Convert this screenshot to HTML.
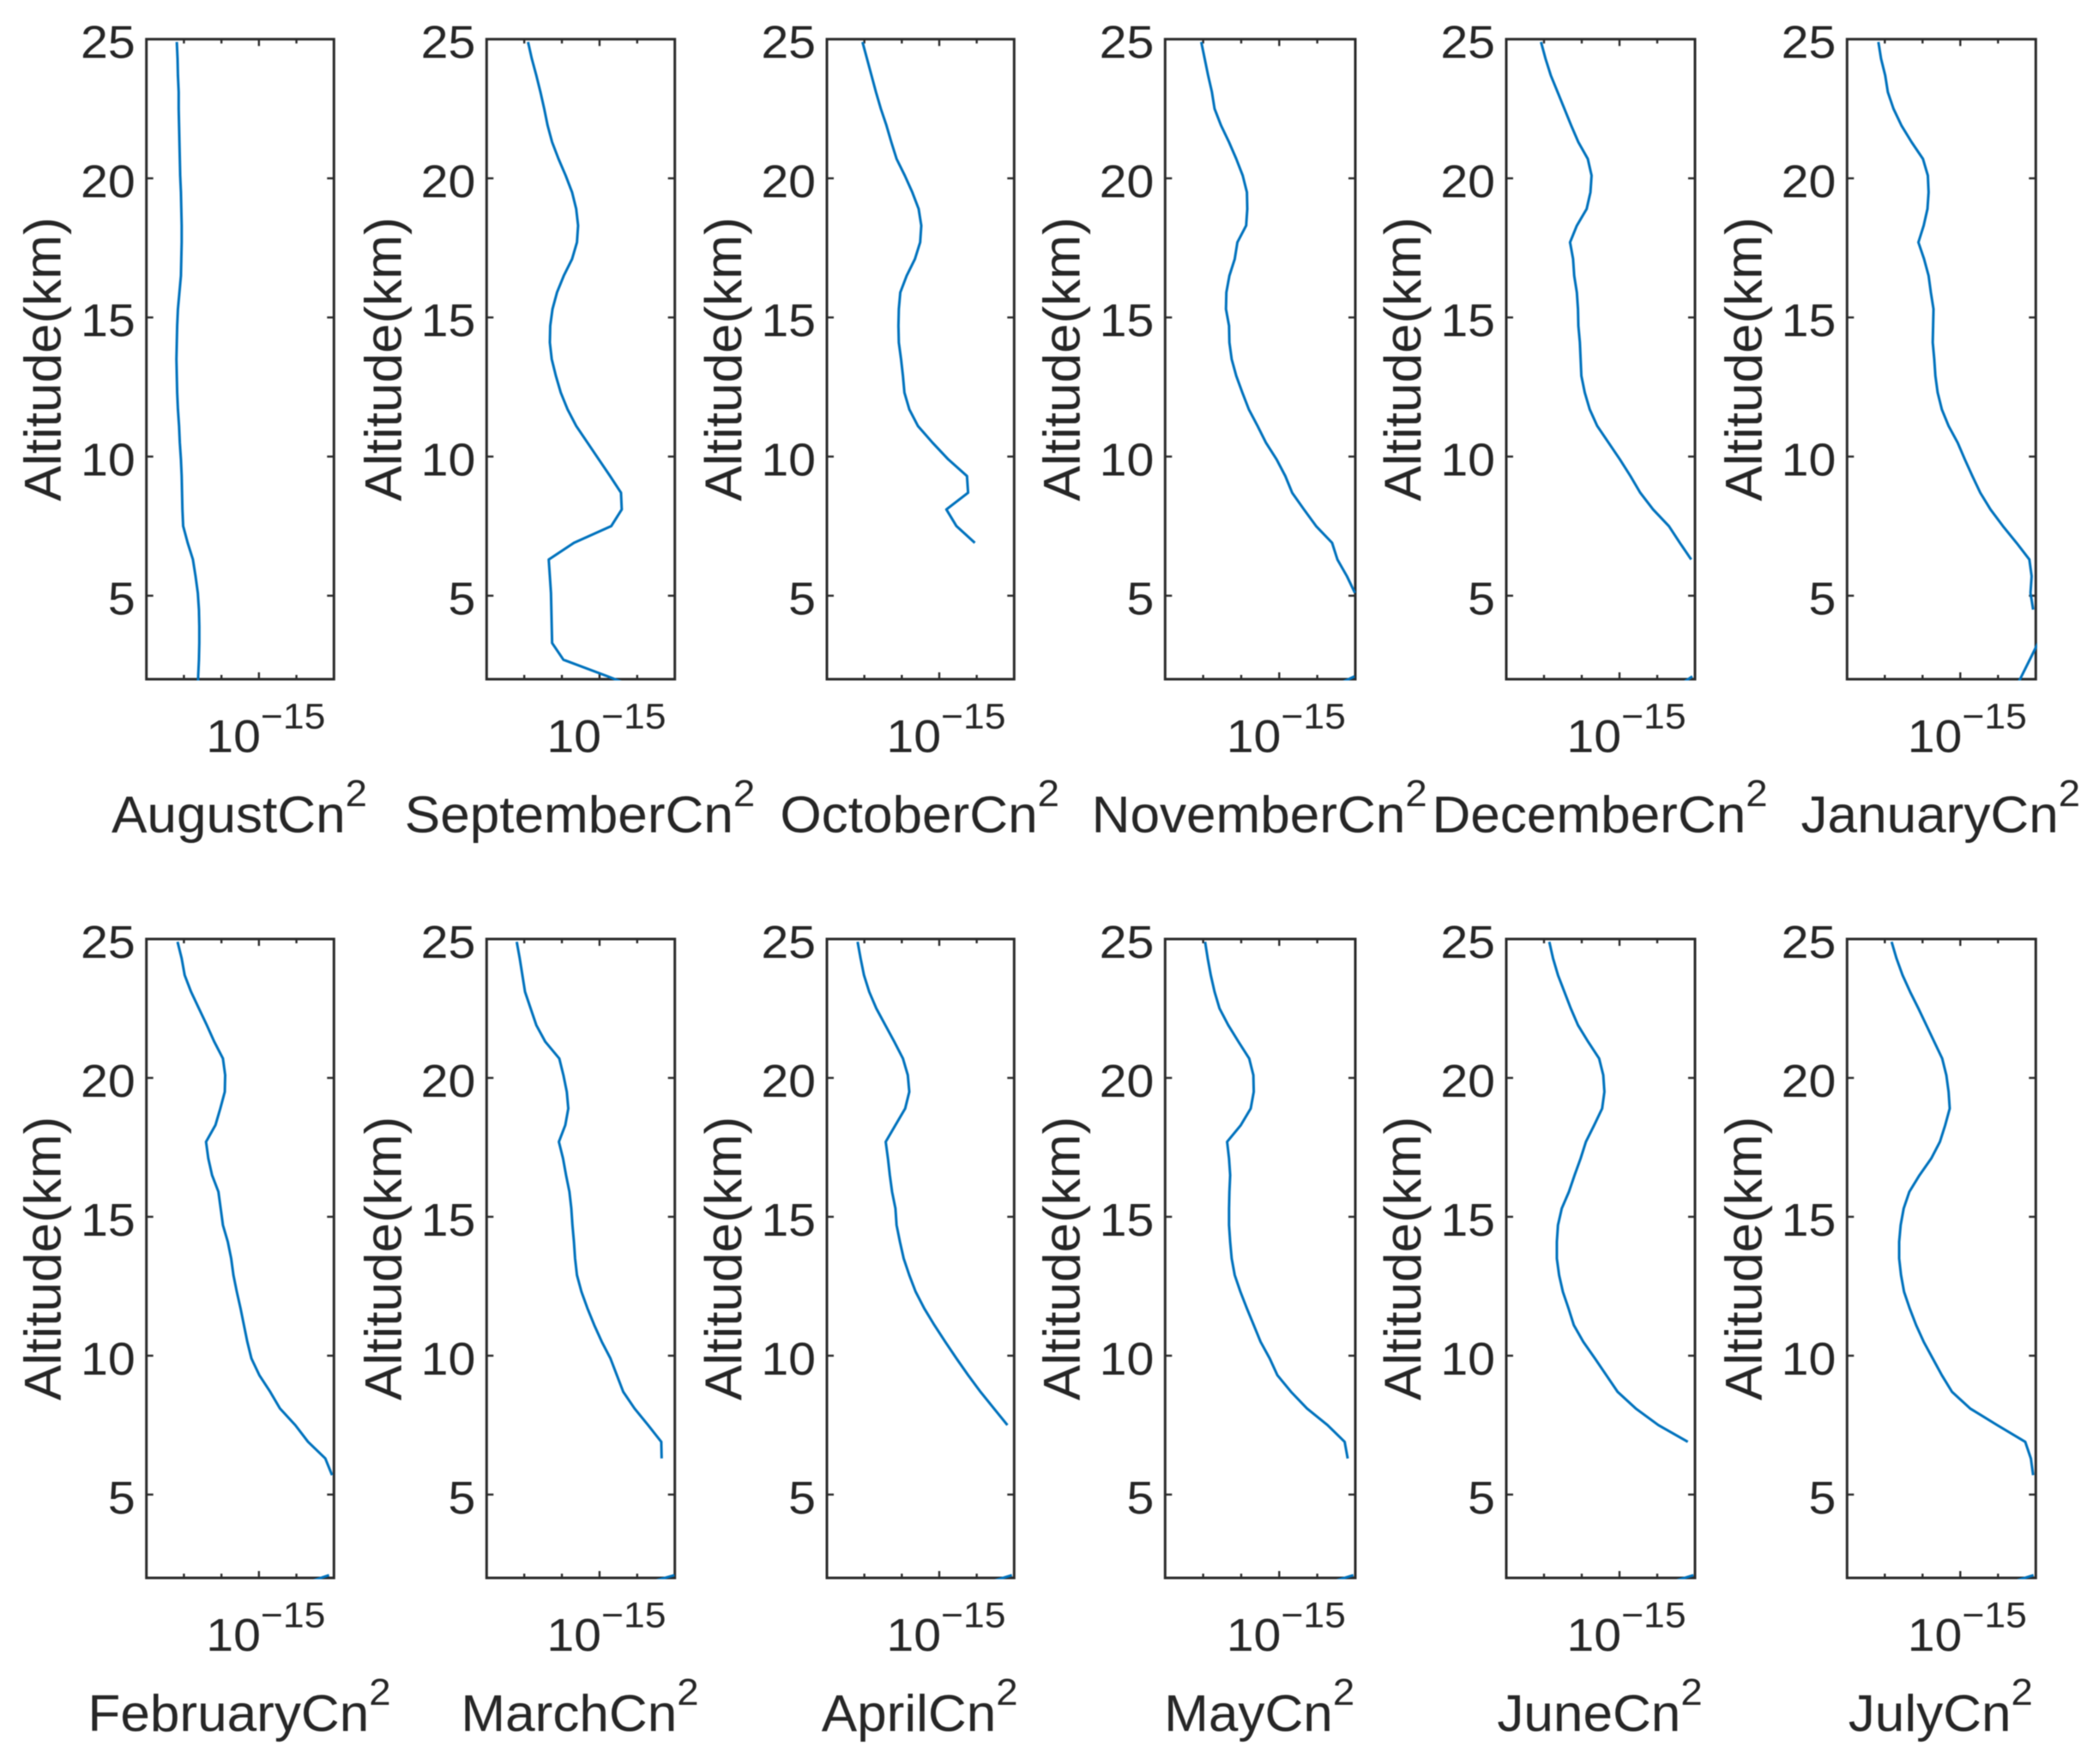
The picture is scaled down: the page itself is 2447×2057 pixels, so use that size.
<!DOCTYPE html>
<html lang="en">
<head>
<meta charset="utf-8">
<title>Monthly Cn2 altitude profiles</title>
<style>
html,body{margin:0;padding:0;background:#fff;}
svg{display:block;filter:blur(0.6px);}
text{font-family:"Liberation Sans",Arial,sans-serif;fill:#262626;}
</style>
</head>
<body>
<svg id="chart" xmlns="http://www.w3.org/2000/svg" width="2447" height="2057" viewBox="0 0 2447 2057"></svg>
<script>
const altitudesKm = [24.9,24.3,23.7,23.1,22.5,21.9,21.3,20.7,20.1,19.5,18.9,18.3,17.7,17.1,16.5,15.9,15.3,14.7,14.1,13.5,12.9,12.3,11.7,11.1,10.5,9.9,9.3,8.7,8.1,7.5,6.9,6.3,5.7,5.1,4.5,3.9,3.3,2.7,2.1,1.5];

/* log10(Cn2) at each altitude level; null = no data at that level */
const cn2August = [-17.19,-17.17,-17.16,-17.14,-17.14,-17.13,-17.12,-17.11,-17.10,-17.08,-17.07,-17.06,-17.06,-17.07,-17.08,-17.12,-17.16,-17.18,-17.19,-17.20,-17.19,-17.18,-17.16,-17.13,-17.11,-17.08,-17.06,-17.05,-17.04,-17.02,-16.90,-16.76,-16.69,-16.63,-16.60,-16.59,-16.59,-16.60,-16.62,-16.63];
const cn2September = [-16.90,-16.80,-16.68,-16.57,-16.47,-16.38,-16.26,-16.09,-15.90,-15.73,-15.62,-15.57,-15.60,-15.73,-15.95,-16.13,-16.25,-16.31,-16.32,-16.27,-16.16,-16.03,-15.85,-15.62,-15.32,-15.02,-14.72,-14.43,-14.41,-14.69,-15.68,-16.35,-16.32,-16.29,-16.28,-16.27,-16.26,-15.96,-14.78,-13.65];
const cn2October = [-17.05,-16.93,-16.81,-16.69,-16.56,-16.41,-16.28,-16.14,-15.92,-15.72,-15.55,-15.48,-15.51,-15.65,-15.87,-16.04,-16.08,-16.09,-16.08,-16.02,-15.97,-15.93,-15.80,-15.57,-15.18,-14.76,-14.26,-14.23,-14.81,-14.54,-14.05,null,null,null,null,null,null,null,null,null];
const cn2November = [-17.05,-16.96,-16.87,-16.77,-16.70,-16.53,-16.32,-16.13,-15.96,-15.85,-15.84,-15.87,-16.10,-16.17,-16.31,-16.39,-16.40,-16.32,-16.31,-16.25,-16.13,-15.97,-15.80,-15.57,-15.35,-15.07,-14.84,-14.66,-14.35,-14.03,-13.61,-13.47,-13.22,-13.01,null,null,null,null,-13.02,-13.95];
const cn2December = [-17.08,-16.96,-16.82,-16.64,-16.46,-16.28,-16.09,-15.84,-15.74,-15.77,-15.87,-16.13,-16.31,-16.23,-16.20,-16.13,-16.10,-16.09,-16.05,-16.03,-16.01,-15.92,-15.79,-15.59,-15.29,-14.99,-14.71,-14.45,-14.11,-13.69,-13.40,-13.10,null,null,null,null,null,null,-13.07,-13.73];
const cn2January = [-17.17,-17.10,-16.99,-16.92,-16.77,-16.56,-16.29,-15.99,-15.86,-15.84,-15.87,-15.97,-16.11,-15.96,-15.84,-15.78,-15.71,-15.72,-15.73,-15.69,-15.66,-15.60,-15.49,-15.31,-15.07,-14.88,-14.68,-14.47,-14.20,-13.87,-13.51,-13.17,-13.11,-13.14,-13.07,null,-12.94,-13.16,-13.38,-13.60];
const cn2February = [-17.17,-17.06,-16.98,-16.81,-16.60,-16.39,-16.19,-15.96,-15.90,-15.91,-16.03,-16.16,-16.41,-16.35,-16.25,-16.08,-16.02,-15.96,-15.83,-15.74,-15.68,-15.59,-15.49,-15.40,-15.31,-15.20,-14.99,-14.70,-14.44,-14.03,-13.69,-13.23,-13.05,null,null,null,null,null,-13.13,-14.44];
const cn2March = [-17.20,-17.12,-17.05,-16.98,-16.83,-16.68,-16.44,-16.07,-15.96,-15.87,-15.83,-15.91,-16.08,-15.97,-15.89,-15.80,-15.75,-15.72,-15.68,-15.65,-15.60,-15.48,-15.32,-15.14,-14.94,-14.71,-14.54,-14.37,-14.07,-13.71,-13.36,-13.35,null,null,null,null,null,null,-13.01,-14.54];
const cn2April = [-17.18,-17.10,-17.01,-16.87,-16.68,-16.44,-16.20,-15.97,-15.84,-15.80,-15.91,-16.17,-16.43,-16.37,-16.32,-16.26,-16.17,-16.14,-16.05,-15.95,-15.80,-15.63,-15.40,-15.13,-14.84,-14.54,-14.23,-13.90,-13.54,-13.18,null,null,null,null,null,null,null,null,-13.06,-14.50];
const cn2May = [-16.95,-16.88,-16.80,-16.70,-16.57,-16.34,-16.07,-15.79,-15.68,-15.67,-15.75,-16.01,-16.37,-16.32,-16.29,-16.31,-16.32,-16.32,-16.29,-16.25,-16.17,-16.02,-15.85,-15.67,-15.49,-15.25,-15.05,-14.69,-14.27,-13.73,-13.28,-13.20,null,null,null,null,null,null,-13.05,-14.45];
const cn2June = [-16.86,-16.76,-16.63,-16.46,-16.29,-16.10,-15.83,-15.54,-15.43,-15.40,-15.46,-15.67,-15.89,-16.03,-16.19,-16.34,-16.53,-16.63,-16.66,-16.66,-16.60,-16.50,-16.35,-16.21,-15.96,-15.65,-15.35,-15.05,-14.57,-13.97,-13.19,null,null,null,null,null,null,null,-13.04,-14.45];
const cn2July = [-16.82,-16.69,-16.53,-16.33,-16.11,-15.90,-15.69,-15.48,-15.37,-15.31,-15.28,-15.40,-15.54,-15.77,-16.08,-16.35,-16.50,-16.58,-16.62,-16.62,-16.57,-16.49,-16.34,-16.17,-15.97,-15.73,-15.49,-15.22,-14.74,-14.02,-13.28,-13.13,-13.07,null,null,null,null,null,-13.06,-14.44];

const monthNames = ["August","September","October","November","December","January","February","March","April","May","June","July"];
const monthSeries = [cn2August,cn2September,cn2October,cn2November,cn2December,cn2January,cn2February,cn2March,cn2April,cn2May,cn2June,cn2July];
const yTickValues = [5,10,15,20,25];
const xTickExponents = [-17,-16,-15,-14];
const xLabelledExponent = -15;
const yDomain = [2,25];
const xDomain = [-18,-13];

/* layout only */
const columnEdges = [[170.7,389.3],[567.3,786.7],[964,1182.3],[1358.3,1580],[1756,1976],[2153.3,2373.3]];
const rowEdges = [[45.7,792],[1095,1840]];

const NS = "http://www.w3.org/2000/svg";
const svg = document.getElementById("chart");

function mk(tag, parent, attrs) {
  const el = document.createElementNS(NS, tag);
  for (const k in attrs) el.setAttribute(k, attrs[k]);
  parent.appendChild(el);
  return el;
}
function xAxis(box, exponent) {
  return box.left + (exponent - xDomain[0]) / (xDomain[1] - xDomain[0]) * (box.right - box.left);
}
function yAxis(box, altitude) {
  return box.bottom - (altitude - yDomain[0]) / (yDomain[1] - yDomain[0]) * (box.bottom - box.top);
}
function linePath(box, series) {
  let d = "";
  let pen = false;
  for (let i = 0; i < series.length; i++) {
    if (series[i] === null) { pen = false; continue; }
    d += (pen ? "L" : "M") + xAxis(box, series[i]).toFixed(2) + " " + yAxis(box, altitudesKm[i]).toFixed(2);
    pen = true;
  }
  return d;
}

const INK = "#2b2b2b";
const TICK_STRETCH = 1.06;
const TITLE_STRETCH = 1.035;

monthNames.forEach(function (month, index) {
  const col = index % 6;
  const row = Math.floor(index / 6);
  const box = {left: columnEdges[col][0], right: columnEdges[col][1], top: rowEdges[row][0], bottom: rowEdges[row][1]};
  const key = month.toLowerCase();
  const w = box.right - box.left;
  const h = box.bottom - box.top;

  const panel = mk("g", svg, {});
  
  

  const clip = mk("clipPath", panel, {id: "clip-" + key});
  mk("rect", clip, {x: box.left - 1.5, y: box.top - 1.5, width: w + 3, height: h + 3});

  const frame = mk("rect", panel, {x: box.left, y: box.top, width: w, height: h, fill: "none", stroke: INK, "stroke-width": 3});
  
  

  yTickValues.forEach(function (v) {
    const y = yAxis(box, v);
    const left = mk("line", panel, {x1: box.left, x2: box.left + 8, y1: y, y2: y, stroke: INK, "stroke-width": 2.4});
    
    
    const right = mk("line", panel, {x1: box.right, x2: box.right - 8, y1: y, y2: y, stroke: INK, "stroke-width": 2.4});
    
    
    const label = mk("text", panel, {"text-anchor": "end", "font-size": 54, transform: "translate(" + (box.left - 13) + " " + (y + 22) + ") scale(" + TICK_STRETCH + " 1)"});
    
    
    label.textContent = String(v);
  });

  xTickExponents.forEach(function (e) {
    const x = xAxis(box, e);
    const len = e === xLabelledExponent ? 8 : 5;
    const bottom = mk("line", panel, {x1: x, x2: x, y1: box.bottom, y2: box.bottom - len, stroke: INK, "stroke-width": 2.4});
    
    
    const top = mk("line", panel, {x1: x, x2: x, y1: box.top, y2: box.top + len, stroke: INK, "stroke-width": 2.4});
    
    
  });

  const line = mk("path", panel, {d: linePath(box, monthSeries[index]), fill: "none", stroke: "#0072BD", "stroke-width": 3, "stroke-linejoin": "round", "clip-path": "url(#clip-" + key + ")"});
  
  

  const tickLabel = mk("text", panel, {"text-anchor": "middle", "font-size": 54, transform: "translate(" + (xAxis(box, xLabelledExponent) + 8) + " " + (box.bottom + 85) + ") scale(" + TICK_STRETCH + " 1)"});
  
  
  const tickBase = mk("tspan", tickLabel, {});
  tickBase.textContent = "10";
  const tickExp = mk("tspan", tickLabel, {dy: -27.5, "font-size": 42});
  tickExp.textContent = "\u2212" + String(Math.abs(xLabelledExponent));

  const xTitle = mk("text", panel, {"text-anchor": "middle", "font-size": 60, transform: "translate(" + ((box.left + box.right) / 2 - 1) + " " + (box.bottom + 178.5) + ") scale(" + TITLE_STRETCH + " 1)"});
  
  
  const titleBase = mk("tspan", xTitle, {});
  titleBase.textContent = month + "Cn";
  const titleExp = mk("tspan", xTitle, {dy: -30.5, "font-size": 44});
  titleExp.textContent = "2";

  const cy = (box.top + box.bottom) / 2;
  const tx = box.left - 100;
  const yTitle = mk("text", panel, {"text-anchor": "middle", "font-size": 60, transform: "translate(" + tx + " " + cy + ") rotate(-90) scale(" + TITLE_STRETCH + " 1)"});
  
  
  yTitle.textContent = "Altitude(km)";
});
</script>
</body>
</html>
